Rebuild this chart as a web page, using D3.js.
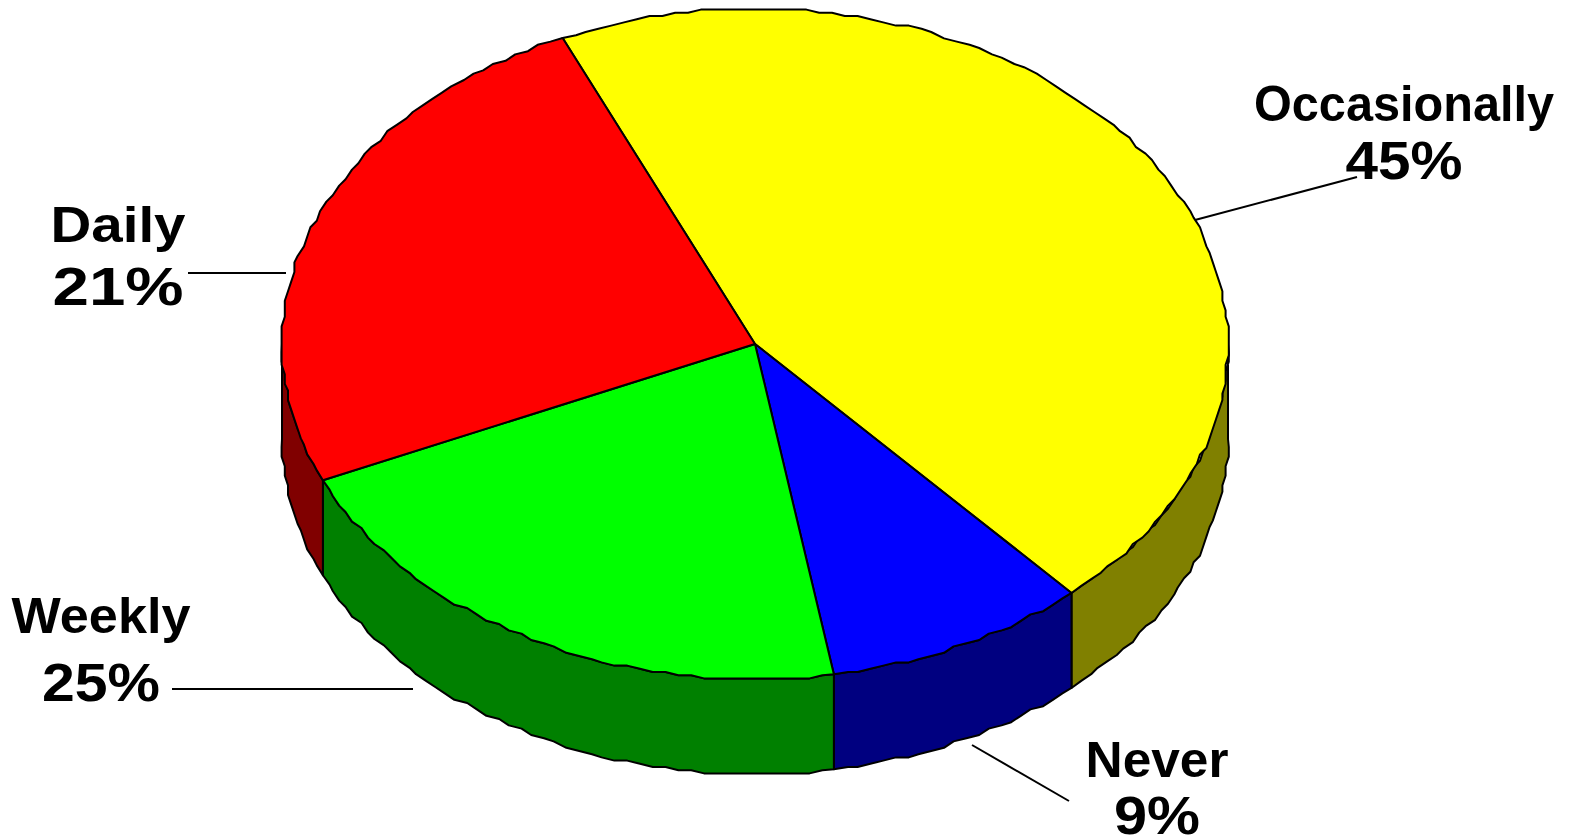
<!DOCTYPE html>
<html><head><meta charset="utf-8">
<style>html,body{margin:0;padding:0;background:#fff;overflow:hidden}svg{display:block}</style>
<script src="https://cdn.jsdelivr.net/npm/d3@7/dist/d3.min.js"></script>
</head><body><svg id="c" width="1571" height="837"></svg>
<script>
(function(){
const categories=["Occasionally","Never","Weekly","Daily"];
const sliceValues=[45,9,21,25];
const percentLabels=["45%","9%","25%","21%"];
const topColors=["#ffff00","#0000ff","#00ff00","#ff0000"];
const sideColors=["#808000","#000080","#008000","#800000"];

const cx=755,cy=344,rx=473,ry=335,depth=95,grid=3.2;
const rad=d=>d*Math.PI/180;
const sx=d3.scaleLinear().domain([-1,1]).range([cx-rx,cx+rx]);
const sy=d3.scaleLinear().domain([-1,1]).range([cy-ry,cy+ry]);
const q=v=>Math.round(v/grid)*grid;
const pt=(a,dz=0)=>[q(sx(Math.sin(a))),q(sy(-Math.cos(a)))+dz];
function arcPts(a0,a1,dz=0){
  const n=Math.max(2,Math.ceil(Math.abs(a1-a0)/rad(1.6)));
  const out=[];
  for(let i=0;i<=n;i++){
    const a=a0+(a1-a0)*i/n;
    const p=i===0||i===n?[sx(Math.sin(a)),sy(-Math.cos(a))+dz]:pt(a,dz);
    const l=out[out.length-1];
    if(!l||l[0]!==p[0]||l[1]!==p[1])out.push(p);
  }
  return out;
}
const line=d3.line();
const pie=d3.pie().sort(null).startAngle(rad(-24)).endAngle(rad(336));
const arcs=pie(sliceValues);
const svg=d3.select("#c");

const wall=svg.append("g").attr("stroke","#000").attr("stroke-width",2).attr("stroke-linejoin","round");
arcs.forEach((d,i)=>{
  const a0=Math.max(d.startAngle,rad(90)),a1=Math.min(d.endAngle,rad(270));
  if(a1<=a0)return;
  const p=arcPts(a0,a1,0).concat(arcPts(a1,a0,depth));
  wall.append("path").attr("d",line(p)+"Z").attr("fill",sideColors[i]);
});
const face=svg.append("g").attr("stroke","#000").attr("stroke-width",2).attr("stroke-linejoin","round");
arcs.forEach((d,i)=>{
  const p=[[sx(0),sy(0)]].concat(arcPts(d.startAngle,d.endAngle));
  face.append("path").attr("d",line(p)+"Z").attr("fill",topColors[i]);
});

const leaders=[[1195,220,1357,177],[972,745,1069,801],[172,689,413,689],[188,273,286,273]];
svg.append("g").selectAll("line").data(leaders).join("line")
 .attr("x1",d=>d[0]).attr("y1",d=>d[1]).attr("x2",d=>d[2]).attr("y2",d=>d[3])
 .attr("stroke","#000").attr("stroke-width",2);

// label layout: centre x, name baseline, percent baseline, name width, percent width
const labelPos=[[1404,121,179,300,117],[1157,777,834,143,86],[101,633,701,179,118],[118,242,305,135,131]];
const g=svg.append("g").attr("font-family","'Liberation Sans',Arial,sans-serif").attr("font-weight",700).attr("text-anchor","middle").attr("fill","#000");
categories.forEach((c,i)=>{
  const L=labelPos[i];
  g.append("text").attr("x",L[0]).attr("y",L[1]).attr("font-size",50).attr("textLength",L[3]).attr("lengthAdjust","spacingAndGlyphs").text(c);
  g.append("text").attr("x",L[0]).attr("y",L[2]).attr("font-size",53).attr("textLength",L[4]).attr("lengthAdjust","spacingAndGlyphs").text(percentLabels[i]);
});
})();
</script></body></html>
